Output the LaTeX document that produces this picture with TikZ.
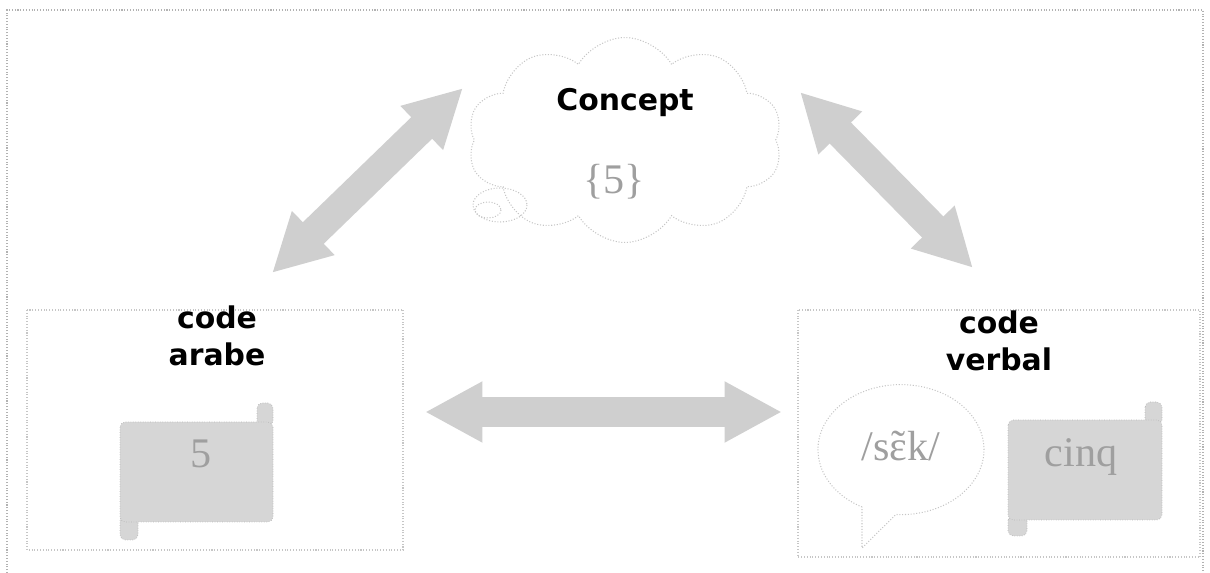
\documentclass[tikz,border=0pt]{standalone}
\usepackage{fontspec}
\setmainfont{Liberation Serif}
\setsansfont{DejaVu Sans}
\usetikzlibrary{arrows.meta, shapes.symbols, positioning}

\tikzset{
    frameline/.style={draw=gray!60, densely dotted, line width=0.6pt},
    boxline/.style={draw=gray!45, densely dotted, line width=0.6pt},
    title/.style={font=\sffamily\bfseries\fontsize{17}{21}\selectfont, align=center},
    grayword/.style={text=gray!75, font=\fontsize{24}{26}\selectfont},
    paper/.style={fill=gray!32, draw=gray!55, densely dotted, rounded corners=3pt},
    fatarrow/.style={draw=gray!38, line width=0.6cm, >={Triangle[width=1.14cm,length=1.15cm]}, <->},
}

\newcommand{\nasale}{\ooalign{ɛ\cr\hidewidth\raisebox{0.05ex}{˜}\hidewidth}}

\begin{document}
\begin{tikzpicture}[x=0.02cm, y=-0.02cm]

    \useasboundingbox (0,0) rectangle (1210,573);

    % outer frame
    \draw[frameline] (7,573) -- (7,10) -- (1203,10) -- (1203,573);

    % boxes
    \draw[boxline] (27,310) rectangle (403,550);
    \draw[boxline] (798,310) rectangle (1200,557);

    % cloud
    \node[cloud, cloud puffs=10, cloud puff arc=120, aspect=1.55, boxline,
          minimum width=6.3cm, minimum height=4.1cm] (cloud) at (625,140) {};
    \draw[boxline] (500,205) ellipse [x radius=27, y radius=17];
    \draw[boxline] (488,210) ellipse [x radius=13, y radius=8];
    \node[title] (concept) at (625,103) {Concept};
    \node[grayword] (set) at (614,182) {\{5\}};

    % titles
    \node[title] (arabe) at (217,336) {code\\arabe};
    \node[title] (verbal) at (999,341) {code\\verbal};

    % scroll left
    \fill[paper] (257,403) rectangle (273,426);
    \fill[paper] (120,515) rectangle (138,540);
    \fill[paper] (120,422) rectangle (273,522);
    \node[grayword] (five) at (201,454) {5};

    % scroll right
    \fill[paper] (1145,402) rectangle (1162,425);
    \fill[paper] (1008,515) rectangle (1027,536);
    \fill[paper] (1008,420) rectangle (1162,520);
    \node[grayword] (cinq) at (1081,457) {cinq};

    % speech bubble
    \draw[boxline] (862,507) arc[start angle=118, end angle=453.5, x radius=83, y radius=65]
        -- (862,548) -- cycle;
    \node[grayword] (sound) at (901,446) {/s\nasale k/};

    % arrows
    \coordinate (arabeUp) at (272,273);
    \coordinate (conceptL) at (463,88);
    \coordinate (conceptR) at (800,92);
    \coordinate (verbalUp) at (973,268);
    \coordinate (arabeR) at (425,412);
    \coordinate (verbalL) at (782,412);

    \draw[fatarrow] (arabeUp) -- (conceptL);
    \draw[fatarrow] (conceptR) -- (verbalUp);
    \draw[fatarrow] (arabeR) -- (verbalL);

\end{tikzpicture}
\end{document}
